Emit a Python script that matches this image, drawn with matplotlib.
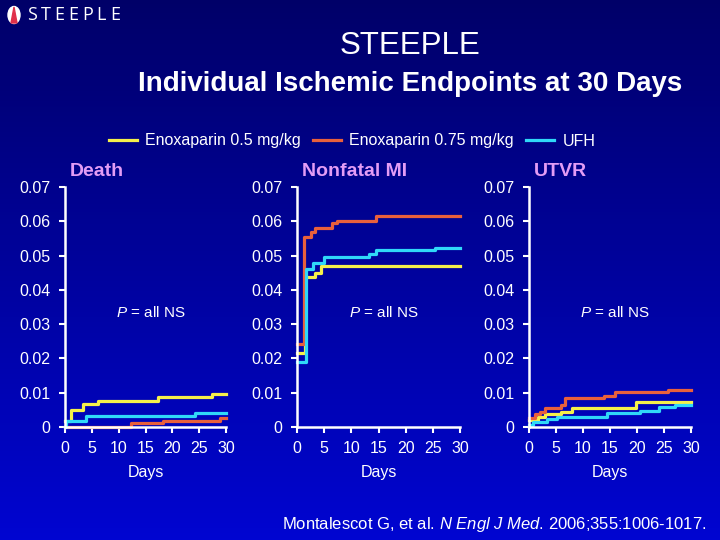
import matplotlib
matplotlib.use("Agg")
import matplotlib.pyplot as plt
import numpy as np
from matplotlib.patches import Ellipse, Polygon

plt.rcParams['font.family'] = ['Liberation Sans', 'DejaVu Sans']
plt.rcParams['mathtext.fontset'] = 'custom'
plt.rcParams['mathtext.rm'] = 'Liberation Sans'
plt.rcParams['mathtext.it'] = 'Liberation Sans:italic'

# ---- data ----
days_ticks = [0, 5, 10, 15, 20, 25, 30]
y_ticks = [0, 0.01, 0.02, 0.03, 0.04, 0.05, 0.06, 0.07]
y_labels = ['0', '0.01', '0.02', '0.03', '0.04', '0.05', '0.06', '0.07']

series_names = ['Enoxaparin 0.5 mg/kg', 'Enoxaparin 0.75 mg/kg', 'UFH']
series_colors = ['#f5f04a', '#e8603c', '#30d8f8']
panel_titles = ['Death', 'Nonfatal MI', 'UTVR']

# Death
death_enox05_t = [0, 1.2, 3.3, 6.1, 17.4, 27.3, 30]
death_enox05_v = [0.0018, 0.0050, 0.0067, 0.0077, 0.0088, 0.0096, 0.0096]
death_enox075_t = [0, 12.3, 18.2, 28.8, 30]
death_enox075_v = [0.0001, 0.0011, 0.0018, 0.0027, 0.0027]
death_ufh_t = [0, 0.2, 4.0, 24.2, 30]
death_ufh_v = [0.0, 0.0018, 0.0032, 0.0042, 0.0042]

# Nonfatal MI
mi_enox05_t = [0, 1.5, 3.3, 4.4, 30]
mi_enox05_v = [0.0215, 0.0438, 0.0448, 0.0469, 0.0469]
mi_enox075_t = [0, 1.3, 2.5, 3.3, 6.4, 7.4, 14.5, 30]
mi_enox075_v = [0.0243, 0.0555, 0.0569, 0.0581, 0.0594, 0.0600, 0.0614, 0.0614]
mi_ufh_t = [0, 1.6, 3.0, 5.0, 13.3, 14.5, 25.4, 30]
mi_ufh_v = [0.0190, 0.0460, 0.0479, 0.0497, 0.0506, 0.0516, 0.0523, 0.0523]

# UTVR
utvr_enox05_t = [0, 1.7, 3.0, 6.0, 7.9, 19.9, 30]
utvr_enox05_v = [0.0021, 0.0030, 0.0037, 0.0045, 0.0055, 0.0073, 0.0073]
utvr_enox075_t = [0, 1.1, 2.0, 3.0, 5.9, 6.7, 13.8, 15.9, 25.8, 30]
utvr_enox075_v = [0.0027, 0.0037, 0.0045, 0.0055, 0.0065, 0.0084, 0.0091, 0.0101, 0.0109, 0.0109]
utvr_ufh_t = [0, 0.8, 3.3, 5.1, 14.4, 20.6, 24.0, 27.0, 30]
utvr_ufh_v = [0.0006, 0.0016, 0.0023, 0.0030, 0.0040, 0.0048, 0.0057, 0.0065, 0.0065]

panels = [
    [(death_enox05_t, death_enox05_v), (death_enox075_t, death_enox075_v), (death_ufh_t, death_ufh_v)],
    [(mi_enox05_t, mi_enox05_v), (mi_enox075_t, mi_enox075_v), (mi_ufh_t, mi_ufh_v)],
    [(utvr_enox05_t, utvr_enox05_v), (utvr_enox075_t, utvr_enox075_v), (utvr_ufh_t, utvr_ufh_v)],
]

W, H = 720, 540
fig = plt.figure(figsize=(7.2, 5.4), dpi=100)

# background gradient + slide text, in pixel coords
bg = fig.add_axes([0, 0, 1, 1], zorder=-10)
grad = np.linspace(0, 1, 256)[:, None]
top = np.array([0.0, 0.0, 0.41])
bot = np.array([0.0, 0.02, 0.82])
img = top[None, None, :] * (1 - grad[:, :, None]) + bot[None, None, :] * grad[:, :, None]
bg.imshow(img, extent=[0, W, H, 0], aspect='auto')
bg.set_xlim(0, W)
bg.set_ylim(H, 0)
bg.axis('off')

# logo
bg.add_patch(Ellipse((14, 15), 12, 17, color='white'))
bg.add_patch(Polygon([[14, 7], [11, 23], [17, 23]], closed=True, color='#e0304a'))
for i, ch in enumerate('STEEPLE'):
    bg.text(32 + i * 13.8, 15, ch, color='white', fontsize=13, ha='center', va='center',
            family=['Open Sans', 'DejaVu Sans'])

bg.text(410, 46, 'STEEPLE', color='white', fontsize=22.5, ha='center', va='center')
bg.text(410, 84, 'Individual Ischemic Endpoints at 30 Days', color='white', fontsize=20,
        fontweight='bold', ha='center', va='center')
bg.text(494, 525, r'Montalescot G, et al. $\it{N\ Engl\ J\ Med}$. 2006;355:1006-1017.',
        color='white', fontsize=12, ha='center', va='center')

axes_px = [(65, 161), (297, 163), (529, 162)]
handles = []
for k, (x0, w) in enumerate(axes_px):
    ax = fig.add_axes([x0 / W, 113 / H, w / W, 240 / H])
    ax.patch.set_alpha(0)
    for (t, v), c in zip(panels[k], series_colors):
        ln, = ax.step(t, v, where='post', color=c, lw=2.3, clip_on=False)
        if k == 0:
            handles.append(ln)
    ax.set_xlim(0, 30)
    ax.set_ylim(0, 0.07)
    ax.set_xticks(days_ticks)
    ax.set_yticks(y_ticks)
    ax.set_yticklabels(y_labels)
    for s in ['top', 'right']:
        ax.spines[s].set_visible(False)
    for s in ['left', 'bottom']:
        ax.spines[s].set_color('white')
        ax.spines[s].set_linewidth(1.8)
    ax.tick_params(colors='white', labelsize=11.5, length=4.3, width=1.5, pad=6)
    ax.set_xlabel('Days', color='white', fontsize=11.5, labelpad=6)
    ax.text(0.03, 1.0625, panel_titles[k], transform=ax.transAxes, color='#e39cf5',
            fontsize=14, fontweight='bold', ha='left', va='center')
    ax.text(0.53, 0.479, r'$\it{P}$ = all NS', transform=ax.transAxes, color='white',
            fontsize=11, ha='center', va='center')

fig.legend(handles, series_names, loc='center', bbox_to_anchor=(352 / W, 1 - 141 / H),
           ncol=3, frameon=False, handlelength=1.75, handletextpad=0.5,
           columnspacing=0.8, borderpad=0, labelcolor='white', fontsize=11.5)

fig.savefig('out.png', dpi=100)
